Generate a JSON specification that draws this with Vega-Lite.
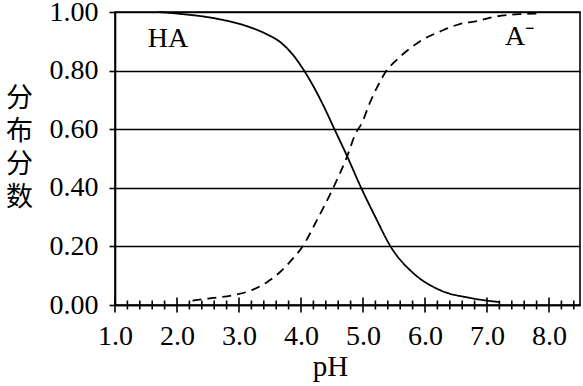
{
  "$schema": "https://vega.github.io/schema/vega-lite/v6.json",
  "width": 465,
  "height": 293,
  "autosize": {"type": "none"},
  "padding": {"left": 115, "top": 12, "right": 3, "bottom": 81},
  "background": "white",
  "config": {
    "view": {"stroke": "black", "strokeWidth": 1.6},
    "font": "Liberation Serif"
  },
  "datasets": {
    "curves": [
      {"pH": 1.70, "frac": 1.000, "species": "HA"},
      {"pH": 2.08, "frac": 0.993, "species": "HA"},
      {"pH": 2.62, "frac": 0.978, "species": "HA"},
      {"pH": 3.15, "frac": 0.950, "species": "HA"},
      {"pH": 3.42, "frac": 0.927, "species": "HA"},
      {"pH": 3.69, "frac": 0.893, "species": "HA"},
      {"pH": 3.85, "frac": 0.859, "species": "HA"},
      {"pH": 4.05, "frac": 0.800, "species": "HA"},
      {"pH": 4.33, "frac": 0.694, "species": "HA"},
      {"pH": 4.54, "frac": 0.600, "species": "HA"},
      {"pH": 4.75, "frac": 0.505, "species": "HA"},
      {"pH": 4.97, "frac": 0.400, "species": "HA"},
      {"pH": 5.20, "frac": 0.300, "species": "HA"},
      {"pH": 5.45, "frac": 0.198, "species": "HA"},
      {"pH": 5.81, "frac": 0.109, "species": "HA"},
      {"pH": 6.24, "frac": 0.051, "species": "HA"},
      {"pH": 6.73, "frac": 0.024, "species": "HA"},
      {"pH": 7.20, "frac": 0.010, "species": "HA"},
      {"pH": 2.25, "frac": 0.015, "species": "A-"},
      {"pH": 2.50, "frac": 0.022, "species": "A-"},
      {"pH": 2.92, "frac": 0.034, "species": "A-"},
      {"pH": 3.21, "frac": 0.051, "species": "A-"},
      {"pH": 3.45, "frac": 0.078, "species": "A-"},
      {"pH": 3.65, "frac": 0.110, "species": "A-"},
      {"pH": 3.85, "frac": 0.154, "species": "A-"},
      {"pH": 4.02, "frac": 0.198, "species": "A-"},
      {"pH": 4.27, "frac": 0.295, "species": "A-"},
      {"pH": 4.52, "frac": 0.400, "species": "A-"},
      {"pH": 4.74, "frac": 0.505, "species": "A-"},
      {"pH": 4.88, "frac": 0.585, "species": "A-"},
      {"pH": 4.98, "frac": 0.620, "species": "A-"},
      {"pH": 5.11, "frac": 0.690, "species": "A-"},
      {"pH": 5.22, "frac": 0.740, "species": "A-"},
      {"pH": 5.38, "frac": 0.800, "species": "A-"},
      {"pH": 5.54, "frac": 0.836, "species": "A-"},
      {"pH": 5.76, "frac": 0.876, "species": "A-"},
      {"pH": 6.00, "frac": 0.910, "species": "A-"},
      {"pH": 6.24, "frac": 0.933, "species": "A-"},
      {"pH": 6.56, "frac": 0.959, "species": "A-"},
      {"pH": 6.84, "frac": 0.969, "species": "A-"},
      {"pH": 7.10, "frac": 0.983, "species": "A-"},
      {"pH": 7.34, "frac": 0.990, "species": "A-"},
      {"pH": 7.58, "frac": 0.993, "species": "A-"},
      {"pH": 7.80, "frac": 0.995, "species": "A-"}
    ],
    "majorTicks": [
      {"t": 1.0}, {"t": 2.0}, {"t": 3.0}, {"t": 4.0}, {"t": 5.0}, {"t": 6.0}, {"t": 7.0}, {"t": 8.0}
    ],
    "minorTicks": [
      {"t": 1.2}, {"t": 1.4}, {"t": 1.6}, {"t": 1.8},
      {"t": 2.2}, {"t": 2.4}, {"t": 2.6}, {"t": 2.8},
      {"t": 3.2}, {"t": 3.4}, {"t": 3.6}, {"t": 3.8},
      {"t": 4.2}, {"t": 4.4}, {"t": 4.6}, {"t": 4.8},
      {"t": 5.2}, {"t": 5.4}, {"t": 5.6}, {"t": 5.8},
      {"t": 6.2}, {"t": 6.4}, {"t": 6.6}, {"t": 6.8},
      {"t": 7.2}, {"t": 7.4}, {"t": 7.6}, {"t": 7.8},
      {"t": 8.2}, {"t": 8.4}
    ],
    "labels": [
      {"pH": 1.53, "frac": 0.88, "text": "HA"},
      {"pH": 7.29, "frac": 0.887, "text": "A⁻"}
    ]
  },
  "encoding": {
    "x": {
      "type": "quantitative",
      "scale": {"domain": [1.0, 8.5], "nice": false, "zero": false},
      "axis": {
        "title": "pH",
        "values": [1, 2, 3, 4, 5, 6, 7, 8],
        "format": ".1f",
        "grid": false,
        "ticks": false,
        "domainColor": "black",
        "domainWidth": 1.6,
        "labelFont": "Liberation Serif",
        "labelFontSize": 28,
        "labelColor": "black",
        "labelPadding": 17,
        "labelFlush": false,
        "titleFont": "Liberation Serif",
        "titleFontSize": 29,
        "titleFontWeight": "normal",
        "titleColor": "black",
        "titleX": 215,
        "titleY": 70,
        "titleBaseline": "alphabetic",
        "titleAlign": "center"
      }
    },
    "y": {
      "type": "quantitative",
      "scale": {"domain": [0, 1], "nice": false},
      "axis": {
        "title": ["分", "布", "分", "数"],
        "values": [0, 0.2, 0.4, 0.6, 0.8, 1.0],
        "format": ".2f",
        "grid": true,
        "gridColor": "black",
        "gridWidth": 1.6,
        "gridOpacity": 1,
        "tickColor": "black",
        "tickSize": 6,
        "tickWidth": 1.6,
        "domainColor": "black",
        "domainWidth": 1.6,
        "labelFont": "Liberation Serif",
        "labelFontSize": 28,
        "labelColor": "black",
        "labelPadding": 11,
        "labelFlush": false,
        "titleFont": "Noto Sans CJK SC",
        "titleFontSize": 27,
        "titleFontWeight": "normal",
        "titleColor": "black",
        "titleAngle": 0,
        "titleLineHeight": 33,
        "titleX": -96,
        "titleY": 86,
        "titleAlign": "center",
        "titleBaseline": "middle"
      }
    }
  },
  "layer": [
    {
      "data": {"name": "curves"},
      "mark": {"type": "line", "color": "black", "strokeWidth": 1.8, "interpolate": "monotone"},
      "encoding": {
        "x": {"field": "pH"},
        "y": {"field": "frac"},
        "strokeDash": {
          "field": "species",
          "type": "nominal",
          "scale": {"domain": ["HA", "A-"], "range": [[1, 0], [9, 6]]},
          "legend": null
        }
      }
    },
    {
      "data": {"name": "majorTicks"},
      "mark": {"type": "tick", "orient": "vertical", "size": 15, "thickness": 1.6, "color": "black", "opacity": 1},
      "encoding": {
        "x": {"field": "t"},
        "y": {"datum": 0}
      }
    },
    {
      "data": {"name": "minorTicks"},
      "mark": {"type": "tick", "orient": "vertical", "size": 9, "thickness": 1.6, "color": "black", "opacity": 1},
      "encoding": {
        "x": {"field": "t"},
        "y": {"datum": 0}
      }
    },
    {
      "data": {"name": "labels"},
      "mark": {"type": "text", "font": "Liberation Serif", "fontSize": 28, "align": "left", "baseline": "alphabetic", "color": "black"},
      "encoding": {
        "x": {"field": "pH"},
        "y": {"field": "frac"},
        "text": {"field": "text"}
      }
    }
  ]
}
